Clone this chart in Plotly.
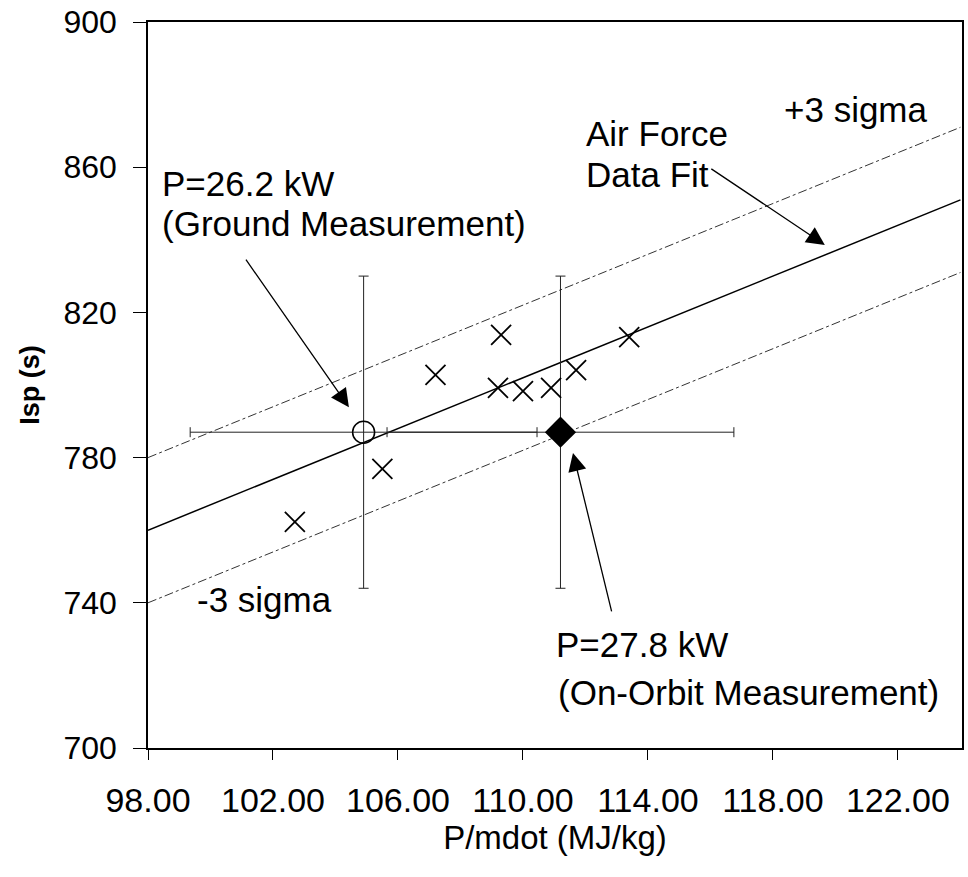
import plotly.graph_objects as go

# individual Isp measurements
sample_x = [102.7, 105.5, 107.2, 109.3, 109.2, 110.0, 110.9, 111.7, 113.4]
sample_y = [762.3, 776.9, 802.8, 813.8, 799.2, 798.3, 799.2, 804.1, 813.2]

# ground / on-orbit measurements with error bars
ground_x = [104.9]
ground_y = [787.0]
orbit_x = [111.2]
orbit_y = [787.0]
err_x = 5.55
err_y = 43.0

# Air Force data fit and +/-3 sigma bounds
fit_x = [98.0, 124.0]
fit_y = [760.0, 851.0]
upper_y = [780.0, 871.0]
lower_y = [740.0, 831.0]

x_ticks = [98, 102, 106, 110, 114, 118, 122]
y_ticks = [700, 740, 780, 820, 860, 900]

FONT = "Liberation Sans, Arial, sans-serif"

fig = go.Figure()

fig.add_trace(go.Scatter(x=fit_x, y=upper_y, mode="lines",
                         line=dict(color="#333333", width=1, dash="dashdot")))
fig.add_trace(go.Scatter(x=fit_x, y=fit_y, mode="lines",
                         line=dict(color="black", width=1.5)))
fig.add_trace(go.Scatter(x=fit_x, y=lower_y, mode="lines",
                         line=dict(color="#333333", width=1, dash="dashdot")))

err_style = dict(type="constant", color="#222222", thickness=1, width=5)
fig.add_trace(go.Scatter(
    x=ground_x, y=ground_y, mode="markers",
    marker=dict(symbol="circle-open", size=22, color="black", line=dict(width=1.5)),
    error_x=dict(value=err_x, **err_style),
    error_y=dict(value=err_y, **err_style),
))
fig.add_trace(go.Scatter(
    x=orbit_x, y=orbit_y, mode="markers",
    marker=dict(symbol="diamond", size=24, color="black"),
    error_x=dict(value=err_x, **err_style),
    error_y=dict(value=err_y, **err_style),
))
fig.add_trace(go.Scatter(
    x=sample_x, y=sample_y, mode="markers",
    marker=dict(symbol="x-thin", size=20, line=dict(width=1.8, color="black")),
))

# text labels
labels = [
    ("P=26.2 kW", 98.38, 855.6),
    ("(Ground Measurement)", 98.38, 844.6),
    ("Air Force", 111.96, 869.4),
    ("Data Fit", 111.96, 858.1),
    ("+3 sigma", 118.29, 875.8),
    ("-3 sigma", 99.5, 740.8),
    ("P=27.8 kW", 111.0, 728.4),
    ("(On-Orbit Measurement)", 111.07, 715.2),
]
for txt, lx, ly in labels:
    fig.add_annotation(x=lx, y=ly, text=txt, showarrow=False,
                       xanchor="left", yanchor="middle",
                       font=dict(family=FONT, size=35, color="black"))

# arrows
arrows = [
    (104.43, 793.9, -104, -149),
    (119.66, 838.6, -115, -77),
    (111.6, 781.3, 39, 160),
]
for tx, ty, ax, ay in arrows:
    fig.add_annotation(x=tx, y=ty, ax=ax, ay=ay, text="", showarrow=True,
                       arrowhead=2, arrowsize=2.8, arrowwidth=1.3,
                       arrowcolor="black")

fig.update_xaxes(
    range=[98, 124.05], tickvals=x_ticks, tickformat=".2f",
    ticks="outside", ticklen=10, tickcolor="black",
    showline=True, linecolor="black", linewidth=1.5, mirror=True,
    showgrid=False, zeroline=False, ticklabelstandoff=11, automargin=False,
    tickfont=dict(family=FONT, size=34, color="black"),
    title=dict(text="P/mdot (MJ/kg)", standoff=3,
               font=dict(family=FONT, size=33, color="black")),
)
fig.update_yaxes(
    range=[700, 900], tickvals=y_ticks,
    ticks="outside", ticklen=13, tickcolor="black",
    showline=True, linecolor="black", linewidth=1.5, mirror=True,
    showgrid=False, zeroline=False, ticklabelstandoff=10, automargin=False,
    tickfont=dict(family=FONT, size=32, color="black"),
    title=dict(text="<b>Isp (s)</b>", standoff=16,
               font=dict(family=FONT, size=27, color="black")),
)

fig.update_layout(
    width=968, height=877,
    margin=dict(l=148, r=6, t=22, b=129),
    plot_bgcolor="white", paper_bgcolor="white",
    showlegend=False,
)

# drop the page's default body margin so the figure sits at the top-left corner
fig.write_html("out.html", config={"displayModeBar": False},
               post_script="document.body.style.margin='0';")
